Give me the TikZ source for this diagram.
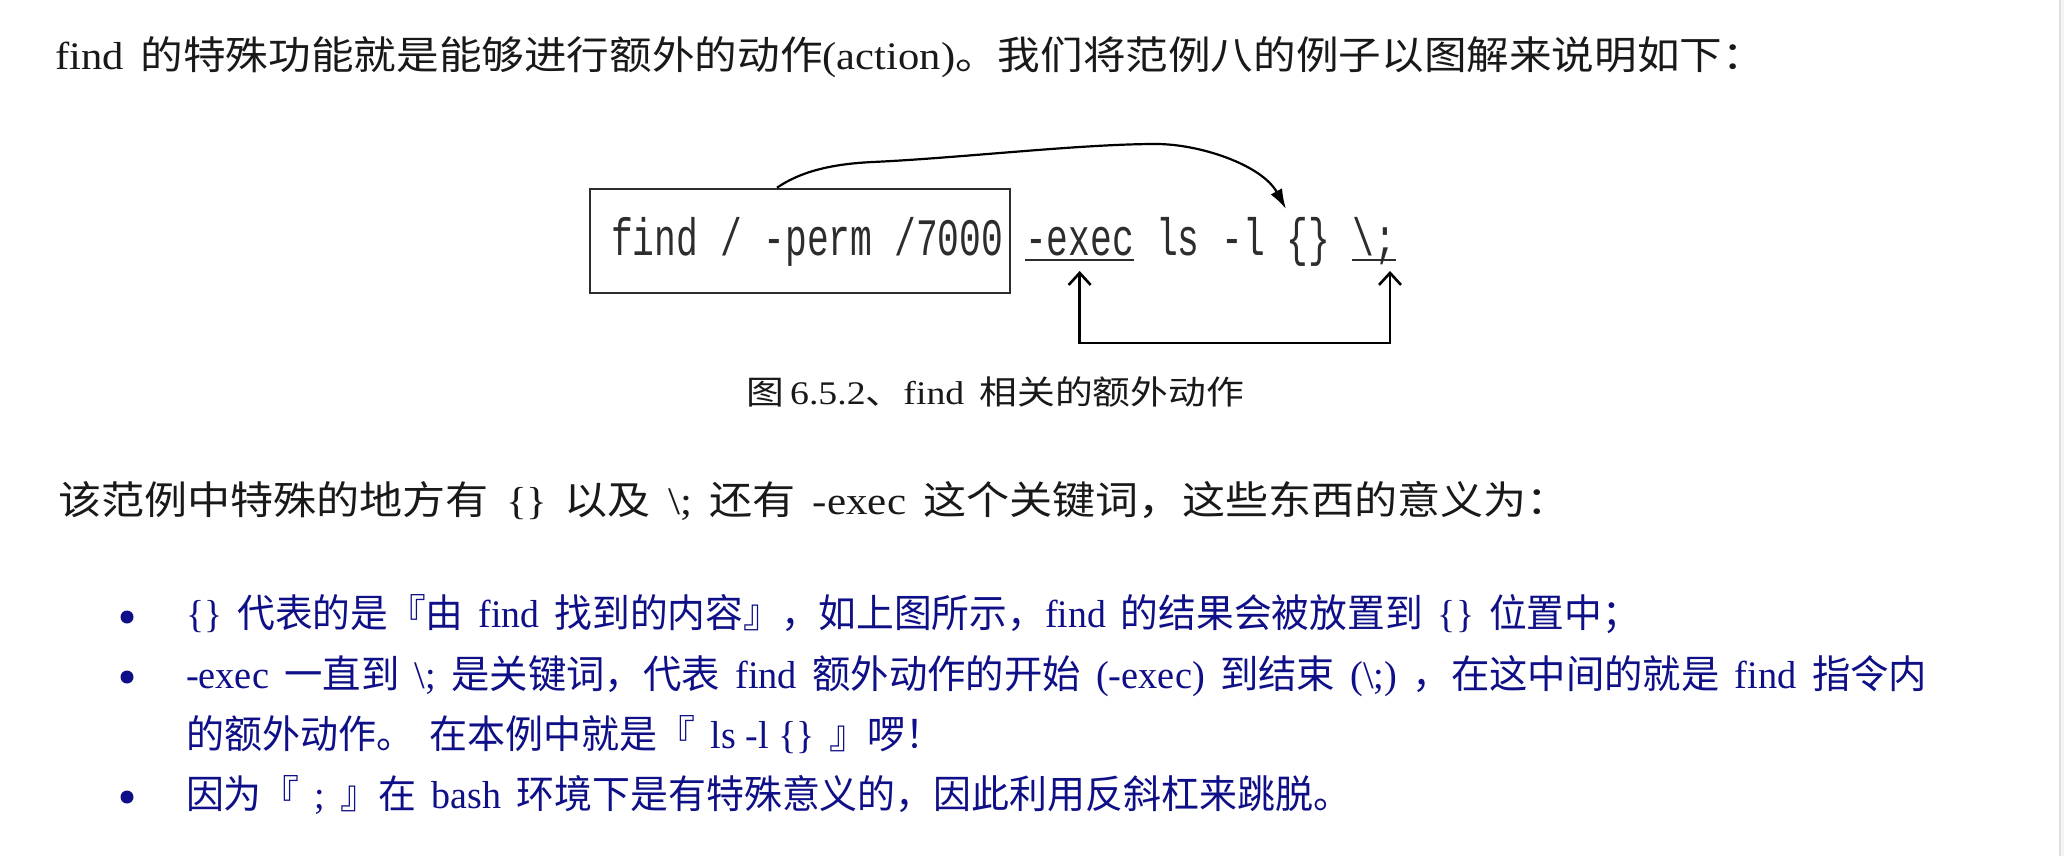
\documentclass[tikz,border=0pt]{standalone}
\usepackage{fontspec}
\usepackage{graphicx}
\setmainfont{Liberation Serif}
\newfontfamily\cjk{Noto Sans CJK SC}
\newfontfamily\cmdfont[FakeStretch=0.69]{Liberation Mono}
\usetikzlibrary{arrows.meta}
\definecolor{navyblue}{RGB}{15,15,135}
\definecolor{inkgray}{RGB}{45,45,45}
\definecolor{bodyink}{RGB}{25,25,25}
\newcommand\C[1]{{\cjk #1}}
\newcommand\G{\hspace{0.4em}}
\newcommand\fitw[2]{\resizebox{#1}{\height}{#2}}
\begin{document}
\begin{tikzpicture}[x=0.5pt,y=-0.5pt,
  body/.style={anchor=base west, inner sep=0pt, outer sep=0pt, text=bodyink,
    font=\fontsize{19.5pt}{24pt}\selectfont},
  bluetext/.style={body, text=navyblue},
  captiontext/.style={body, font=\fontsize{16.5pt}{20pt}\selectfont},
  cmdtext/.style={anchor=base west, inner sep=0pt, outer sep=0pt, text=inkgray,
    font=\cmdfont\fontsize{26.3pt}{30pt}\selectfont},
  bulletdot/.style={circle, fill=navyblue, inner sep=0pt, minimum size=6.5pt},
  cmdbox/.style={draw=inkgray, line width=1.3pt, minimum width=210pt, minimum height=52pt, inner sep=0pt},
  uline/.style={draw=inkgray, line width=1.1pt},
  curvearrow/.style={draw=black, line width=1.1pt, -{Latex[length=10pt,width=6.5pt]}},
  bracket/.style={draw=black, line width=1.3pt, {Straight Barb[length=6pt,width=11pt]}-{Straight Barb[length=6pt,width=11pt]}}
]
% page
\fill[white] (0,0) rectangle (2064,856);
\fill[black!12] (2059,0) rectangle (2061,856);
\fill[black!4] (2061,0) rectangle (2064,856);

% first paragraph
\node[body] (l1) at (55,69) {\fitw{855pt}{find\G\C{的特殊功能就是能够进行额外的动作}(action)\C{。我们将范例八的例子以图解来说明如下：}}};

% diagram
\node[cmdbox] (box) at (800,241) {};
\node[cmdtext] (wfind) at (611,255) {find};
\node[cmdtext] (wslash) at (720,255) {/};
\node[cmdtext] (wperm) at (763.6,255) {-perm};
\node[cmdtext] (wmode) at (894.4,255) {/7000};
\node[cmdtext] (exec) at (1025.2,255) {-exec};
\node[cmdtext] (wls) at (1156,255) {ls};
\node[cmdtext] (wl) at (1221.4,255) {-l};
\node[cmdtext] (braces) at (1286.8,255) {\{\}};
\node[cmdtext] (semi) at (1352.2,255) {\textbackslash;};

\draw[uline] ([yshift=-2.6pt]exec.base west) -- ([yshift=-2.6pt]exec.base east);
\draw[uline] ([yshift=-2.6pt]semi.base west) -- ([yshift=-2.6pt]semi.base east);

\coordinate (tipA) at (1286,209);
\draw[curvearrow] ([xshift=-11.5pt]box.north) .. controls (800,172) and (830,164) .. (873,162)
  .. controls (960,158) and (1080,144) .. (1156,144)
  .. controls (1200,144) and (1262,165) .. (tipA);

\coordinate (ea) at (exec.base |- 0,271);
\coordinate (sa) at (1390,271);
\draw[bracket] (ea) -- (ea |- 0,343) -- (sa |- 0,343) -- (sa);

\node[captiontext] (cap) at (746,404) {\fitw{249pt}{\C{图}\,6.5.2\C{、}find\G\C{相关的额外动作}}};

% second paragraph
\node[body] (l2) at (58,514) {\fitw{756pt}{\C{该范例中特殊的地方有}\G\{\}\G\C{以及}\G\textbackslash;\G\C{还有}\G-exec\G\C{这个关键词，这些东西的意义为：}}};

% bullets
\node[bulletdot] (d1) at (127,617) {};
\node[bulletdot] (d2) at (127,677) {};
\node[bulletdot] (d3) at (127,797) {};

\node[bluetext] (b1) at (186,627) {\fitw{727pt}{\{\}\G\C{代表的是『由}\G find\G\C{找到的内容』，如上图所示，}find\G\C{的结果会被放置到}\G\{\}\G\C{位置中；}}};
\node[bluetext] (b2a) at (186,688) {\fitw{870.5pt}{-exec\G\C{一直到}\G\textbackslash;\G\C{是关键词，代表}\G find\G\C{额外动作的开始}\G(-exec)\G\C{到结束}\G(\textbackslash;)\G\C{，在这中间的就是}\G find\G\C{指令内}}};
\node[bluetext] (b2b) at (186,748) {\fitw{379pt}{\C{的额外动作。}\G\C{在本例中就是『}\G ls -l \{\}\G\C{』啰！}}};
\node[bluetext] (b3) at (186,808) {\fitw{582.5pt}{\C{因为『}\G;\G\C{』在}\G bash\G\C{环境下是有特殊意义的，因此利用反斜杠来跳脱。}}};
\end{tikzpicture}
\end{document}
